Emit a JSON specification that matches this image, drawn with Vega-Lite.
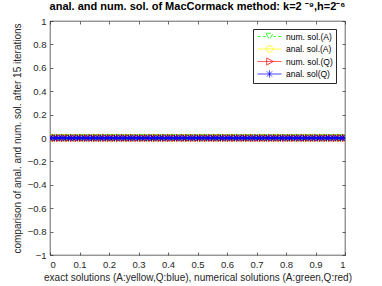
{
  "$schema": "https://vega.github.io/schema/vega-lite/v6.json",
  "width": 295,
  "height": 234,
  "autosize": {"type": "none"},
  "padding": {"left": 50, "top": 21, "right": 37, "bottom": 31},
  "background": "white",
  "config": {
    "font": "Liberation Sans",
    "view": {"stroke": "#262626", "strokeWidth": 0.7},
    "axis": {"domain": false, "grid": false, "labelFont": "Liberation Sans", "titleFont": "Liberation Sans", "labelColor": "#262626", "titleColor": "#262626", "tickColor": "#262626", "labelFontSize": 9.5, "titleFontSize": 10, "titleFontWeight": "normal", "tickSize": -3, "tickWidth": 0.7, "format": "~g"}
  },
  "title": {"text": "anal. and num. sol. of MacCormack method: k=2 ⁻⁹,h=2⁻⁶", "font": "Liberation Sans", "fontSize": 11, "fontWeight": "bold", "color": "#000000", "offset": 4, "anchor": "middle"},
  "data": {"values": [
    {"x":0,"s1":0,"s2":0,"s3":0,"s4":0},{"x":0.015625,"s1":0,"s2":0,"s3":0,"s4":0},{"x":0.03125,"s1":0,"s2":0,"s3":0,"s4":0},{"x":0.046875,"s1":0,"s2":0,"s3":0,"s4":0},
    {"x":0.0625,"s1":0,"s2":0,"s3":0,"s4":0},{"x":0.078125,"s1":0,"s2":0,"s3":0,"s4":0},{"x":0.09375,"s1":0,"s2":0,"s3":0,"s4":0},{"x":0.109375,"s1":0,"s2":0,"s3":0,"s4":0},
    {"x":0.125,"s1":0,"s2":0,"s3":0,"s4":0},{"x":0.140625,"s1":0,"s2":0,"s3":0,"s4":0},{"x":0.15625,"s1":0,"s2":0,"s3":0,"s4":0},{"x":0.171875,"s1":0,"s2":0,"s3":0,"s4":0},
    {"x":0.1875,"s1":0,"s2":0,"s3":0,"s4":0},{"x":0.203125,"s1":0,"s2":0,"s3":0,"s4":0},{"x":0.21875,"s1":0,"s2":0,"s3":0,"s4":0},{"x":0.234375,"s1":0,"s2":0,"s3":0,"s4":0},
    {"x":0.25,"s1":0,"s2":0,"s3":0,"s4":0},{"x":0.265625,"s1":0,"s2":0,"s3":0,"s4":0},{"x":0.28125,"s1":0,"s2":0,"s3":0,"s4":0},{"x":0.296875,"s1":0,"s2":0,"s3":0,"s4":0},
    {"x":0.3125,"s1":0,"s2":0,"s3":0,"s4":0},{"x":0.328125,"s1":0,"s2":0,"s3":0,"s4":0},{"x":0.34375,"s1":0,"s2":0,"s3":0,"s4":0},{"x":0.359375,"s1":0,"s2":0,"s3":0,"s4":0},
    {"x":0.375,"s1":0,"s2":0,"s3":0,"s4":0},{"x":0.390625,"s1":0,"s2":0,"s3":0,"s4":0},{"x":0.40625,"s1":0,"s2":0,"s3":0,"s4":0},{"x":0.421875,"s1":0,"s2":0,"s3":0,"s4":0},
    {"x":0.4375,"s1":0,"s2":0,"s3":0,"s4":0},{"x":0.453125,"s1":0,"s2":0,"s3":0,"s4":0},{"x":0.46875,"s1":0,"s2":0,"s3":0,"s4":0},{"x":0.484375,"s1":0,"s2":0,"s3":0,"s4":0},
    {"x":0.5,"s1":0,"s2":0,"s3":0,"s4":0},{"x":0.515625,"s1":0,"s2":0,"s3":0,"s4":0},{"x":0.53125,"s1":0,"s2":0,"s3":0,"s4":0},{"x":0.546875,"s1":0,"s2":0,"s3":0,"s4":0},
    {"x":0.5625,"s1":0,"s2":0,"s3":0,"s4":0},{"x":0.578125,"s1":0,"s2":0,"s3":0,"s4":0},{"x":0.59375,"s1":0,"s2":0,"s3":0,"s4":0},{"x":0.609375,"s1":0,"s2":0,"s3":0,"s4":0},
    {"x":0.625,"s1":0,"s2":0,"s3":0,"s4":0},{"x":0.640625,"s1":0,"s2":0,"s3":0,"s4":0},{"x":0.65625,"s1":0,"s2":0,"s3":0,"s4":0},{"x":0.671875,"s1":0,"s2":0,"s3":0,"s4":0},
    {"x":0.6875,"s1":0,"s2":0,"s3":0,"s4":0},{"x":0.703125,"s1":0,"s2":0,"s3":0,"s4":0},{"x":0.71875,"s1":0,"s2":0,"s3":0,"s4":0},{"x":0.734375,"s1":0,"s2":0,"s3":0,"s4":0},
    {"x":0.75,"s1":0,"s2":0,"s3":0,"s4":0},{"x":0.765625,"s1":0,"s2":0,"s3":0,"s4":0},{"x":0.78125,"s1":0,"s2":0,"s3":0,"s4":0},{"x":0.796875,"s1":0,"s2":0,"s3":0,"s4":0},
    {"x":0.8125,"s1":0,"s2":0,"s3":0,"s4":0},{"x":0.828125,"s1":0,"s2":0,"s3":0,"s4":0},{"x":0.84375,"s1":0,"s2":0,"s3":0,"s4":0},{"x":0.859375,"s1":0,"s2":0,"s3":0,"s4":0},
    {"x":0.875,"s1":0,"s2":0,"s3":0,"s4":0},{"x":0.890625,"s1":0,"s2":0,"s3":0,"s4":0},{"x":0.90625,"s1":0,"s2":0,"s3":0,"s4":0},{"x":0.921875,"s1":0,"s2":0,"s3":0,"s4":0},
    {"x":0.9375,"s1":0,"s2":0,"s3":0,"s4":0},{"x":0.953125,"s1":0,"s2":0,"s3":0,"s4":0},{"x":0.96875,"s1":0,"s2":0,"s3":0,"s4":0},{"x":0.984375,"s1":0,"s2":0,"s3":0,"s4":0},
    {"x":1,"s1":0,"s2":0,"s3":0,"s4":0}
  ]},
  "transform": [{"fold": ["s1", "s2", "s3", "s4"], "as": ["series", "y"]}],
  "resolve": {"axis": {"x": "independent", "y": "independent"}},
  "layer": [
    {
      "mark": {"type": "point", "opacity": 0},
      "encoding": {
        "x": {"field": "x", "type": "quantitative", "scale": {"domain": [0, 1], "nice": false}, "axis": {"orient": "top", "labels": false, "title": null, "values": [0,0.1,0.2,0.3,0.4,0.5,0.6,0.7,0.8,0.9,1]}},
        "y": {"field": "y", "type": "quantitative", "scale": {"domain": [-1, 1], "nice": false}, "axis": {"orient": "right", "labels": false, "title": null, "values": [-1,-0.8,-0.6,-0.4,-0.2,0,0.2,0.4,0.6,0.8,1]}}
      }
    },
    {
      "mark": {"type": "line", "strokeWidth": 0.8},
      "encoding": {
        "x": {"field": "x", "type": "quantitative", "axis": null},
        "y": {"field": "y", "type": "quantitative", "axis": null},
        "detail": {"field": "series"},
        "color": {"field": "series", "type": "nominal", "scale": {"domain": ["s1","s2","s3","s4"], "range": ["#00FF00","#FFFF00","#FF0000","#0000FF"]}},
        "strokeDash": {"field": "series", "type": "nominal", "scale": {"domain": ["s1","s2","s3","s4"], "range": [[5,3],[1,0],[1,0],[1,0]]}, "legend": null},
        "order": {"field": "series", "sort": "ascending"}
      }
    },
    {
      "mark": {"type": "point", "filled": false, "size": 60, "strokeWidth": 1, "opacity": 1, "clip": true},
      "encoding": {
        "x": {"field": "x", "type": "quantitative", "axis": {"orient": "bottom", "title": "exact solutions (A:yellow,Q:blue), numerical solutions (A:green,Q:red)", "values": [0,0.1,0.2,0.3,0.4,0.5,0.6,0.7,0.8,0.9,1], "labelPadding": 7, "titlePadding": 4}},
        "y": {"field": "y", "type": "quantitative", "axis": {"orient": "left", "title": "comparison of anal. and num. sol. after 15 iterations", "values": [-1,-0.8,-0.6,-0.4,-0.2,0,0.2,0.4,0.6,0.8,1], "labelPadding": 7, "titlePadding": 5}},
        "color": {"field": "series", "type": "nominal", "scale": {"domain": ["s1","s2","s3","s4"], "range": ["#00FF00","#FFFF00","#FF0000","#0000FF"]},
          "legend": {"title": null, "orient": "none", "legendX": 203, "legendY": 8, "direction": "vertical", "strokeColor": "#262626", "fillColor": "white", "padding": 3, "symbolSize": 64, "symbolStrokeWidth": 0.8, "symbolOffset": 9, "labelOffset": 12, "rowPadding": 1.5, "labelFontSize": 8.5, "labelColor": "#000000", "labelFont": "Liberation Sans",
            "labelExpr": "datum.value==='s1' ? 'num. sol.(A)' : datum.value==='s2' ? 'anal. sol.(A)' : datum.value==='s3' ? 'num. sol.(Q)' : 'anal. sol(Q)'"}},
        "shape": {"field": "series", "type": "nominal", "scale": {"domain": ["s1","s2","s3","s4"], "range": [
          "M-3,0H-2.2M-1.6,0H-1M1,0H1.6M2.2,0H3M-0.9,-0.8H0.9L0,0.8Z",
          "M-3,0H3M0.8,0A0.8,0.8 0 1,1 -0.8,0A0.8,0.8 0 1,1 0.8,0",
          "M-3,0H3M-0.7,-0.9L0.9,0L-0.7,0.9Z",
          "M-3,0H3M0,-0.9V0.9M-0.65,-0.65L0.65,0.65M-0.65,0.65L0.65,-0.65"]}},
        "order": {"field": "series", "sort": "ascending"}
      }
    }
  ]
}
